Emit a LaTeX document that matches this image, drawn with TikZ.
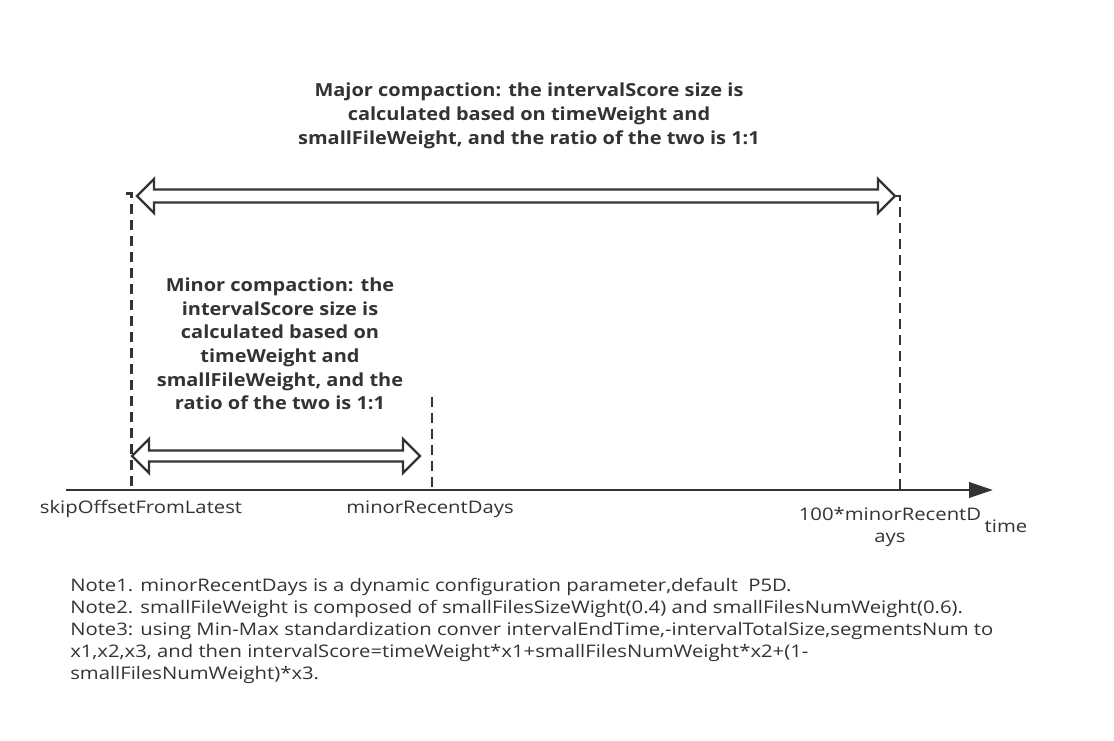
\documentclass[tikz,border=0pt]{standalone}
\usepackage{fontspec}
\setmainfont{Open Sans}[FakeStretch=1.17]
\newfontfamily\ttlfont{Open Sans}[FakeStretch=1.11]
\usetikzlibrary{arrows.meta}
\definecolor{ink}{HTML}{333333}
\begin{document}
\begin{tikzpicture}[x=0.75pt,y=-0.75pt,
  txt/.style={text=ink,inner sep=0pt,font=\fontsize{13}{16.5}\selectfont},
  ttl/.style={text=ink,inner sep=0pt,align=center,font=\ttlfont\fontsize{13.5}{18}\selectfont\bfseries},
  axisline/.style={draw=ink,line width=2.2pt,-{Triangle[length=18pt,width=11.5pt]}},
  guide/.style={draw=ink,line width=1.9pt,dash pattern=on 7.5pt off 4.5pt},
  hollow/.style={draw=ink,fill=white,line width=1.8pt,line join=miter}]
\fill[white] (0,0) rectangle (1114,741);
\useasboundingbox (0,0) rectangle (1114,741);
% guides
\coordinate (Lcap) at (126,193.5);
\coordinate (Ltop) at (131.5,193.5);
\coordinate (Lbot) at (131.5,490);
\coordinate (Mtop) at (432,397);
\coordinate (Mbot) at (432,490);
\coordinate (Rcap) at (895,196);
\coordinate (Rtop) at (900,196);
\coordinate (Rbot) at (900,490);
\coordinate (axS) at (66,490);
\coordinate (axE) at (993,490);
\draw[guide] (Lcap) -- (Ltop) -- (Lbot);
\draw[guide] (Mtop) -- (Mbot);
\draw[guide] (Rcap) -- (Rtop) -- (Rbot);
\draw[axisline] (axS) -- (axE);
% major double arrow
\draw[hollow] (137,196) -- (154,179) -- (154,189.5) -- (878,189.5) -- (878,179) -- (895,196)
  -- (878,213) -- (878,202.5) -- (154,202.5) -- (154,213) -- cycle;
% minor double arrow
\draw[hollow] (132,456) -- (149,439) -- (149,450.5) -- (403,450.5) -- (403,439) -- (420,456)
  -- (403,473) -- (403,461.5) -- (149,461.5) -- (149,473) -- cycle;
% titles
\node[ttl] (major) at (529,115.5) {Major compaction: the intervalScore size is\\calculated based on timeWeight and\\smallFileWeight, and the ratio of the two is 1:1};
\node[ttl,font=\ttlfont\fontsize{13.5}{17.7}\selectfont\bfseries] (minor) at (280,344) {Minor compaction: the\\intervalScore size is\\calculated based on\\timeWeight and\\smallFileWeight, and the\\ratio of the two is 1:1};
% axis labels
\node[txt] (skip) at (141,509) {skipOffsetFromLatest};
\node[txt] (mrd) at (430,509) {minorRecentDays};
\node[txt,align=center] (hmrd) at (890,527) {100*minorRecentD\\ays};
\node[txt] (time) at (1006,526) {time};
% notes
\node[txt,anchor=west,align=left,font=\fontsize{13}{16.5}\selectfont] (notes) at (70,631) {Note1. minorRecentDays is a dynamic configuration parameter,default\ \ P5D.\\
Note2. smallFileWeight is composed of smallFilesSizeWight(0.4) and smallFilesNumWeight(0.6).\\
Note3: using Min-Max standardization conver intervalEndTime,-intervalTotalSize,segmentsNum to\\
x1,x2,x3, and then intervalScore=timeWeight*x1+smallFilesNumWeight*x2+(1-\\
smallFilesNumWeight)*x3.};
\end{tikzpicture}
\end{document}
